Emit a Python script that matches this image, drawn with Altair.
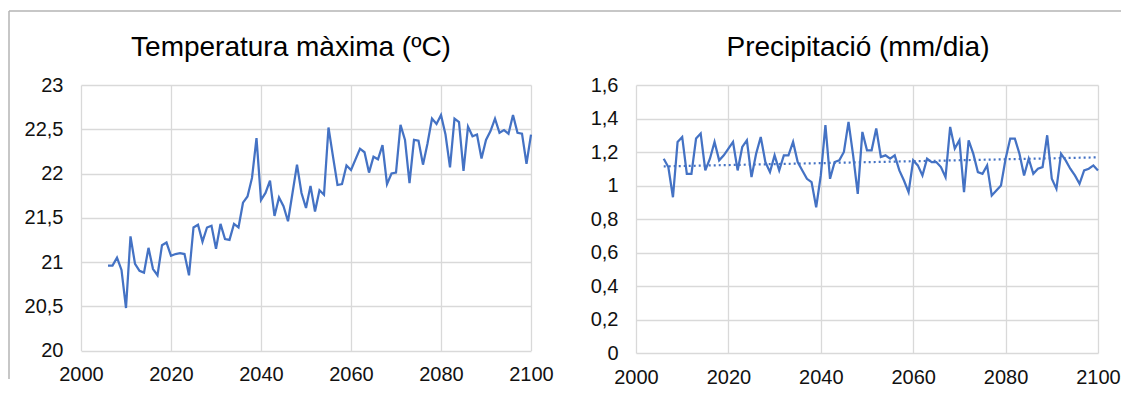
import altair as alt
import pandas as pd

years = list(range(2006, 2101))

tmax = [20.96, 20.96, 21.05, 20.91, 20.48, 21.29, 20.98, 20.90, 20.88, 21.16,
        20.92, 20.85, 21.19, 21.22, 21.07, 21.09, 21.10, 21.09, 20.85, 21.39,
        21.42, 21.23, 21.39, 21.41, 21.15, 21.43, 21.26, 21.25, 21.43, 21.39,
        21.67, 21.74, 21.95, 22.40, 21.70, 21.78, 21.92, 21.52, 21.73, 21.63,
        21.46, 21.78, 22.10, 21.78, 21.61, 21.86, 21.57, 21.81, 21.76, 22.52,
        22.19, 21.87, 21.88, 22.09, 22.04, 22.16, 22.28, 22.24, 22.01, 22.19,
        22.16, 22.32, 21.88, 22.00, 22.01, 22.55, 22.38, 21.89, 22.38, 22.37,
        22.10, 22.34, 22.62, 22.56, 22.66, 22.44, 22.07, 22.62, 22.58, 22.03,
        22.53, 22.42, 22.44, 22.17, 22.38, 22.48, 22.62, 22.46, 22.49, 22.45,
        22.66, 22.46, 22.45, 22.11, 22.44]

precip = [1.16, 1.11, 0.93, 1.26, 1.29, 1.07, 1.07, 1.28, 1.31, 1.09,
          1.16, 1.26, 1.15, 1.18, 1.22, 1.26, 1.09, 1.23, 1.27, 1.05,
          1.19, 1.29, 1.14, 1.08, 1.18, 1.09, 1.18, 1.18, 1.26, 1.14,
          1.09, 1.04, 1.02, 0.87, 1.06, 1.36, 1.04, 1.14, 1.15, 1.20,
          1.38, 1.18, 0.95, 1.32, 1.21, 1.21, 1.34, 1.17, 1.18, 1.16,
          1.18, 1.09, 1.03, 0.96, 1.15, 1.12, 1.06, 1.16, 1.14, 1.14,
          1.11, 1.05, 1.35, 1.22, 1.27, 0.96, 1.27, 1.19, 1.08, 1.07,
          1.12, 0.94, 0.97, 1.00, 1.16, 1.28, 1.28, 1.19, 1.06, 1.16,
          1.07, 1.10, 1.11, 1.30, 1.04, 0.98, 1.19, 1.15, 1.10, 1.06,
          1.01, 1.09, 1.10, 1.12, 1.09]

# dotted linear trend of precipitation, endpoints
trend_years = [2006, 2100]
trend_vals = [1.114, 1.168]

x_ticks = [2000, 2020, 2040, 2060, 2080, 2100]
t_ticks = [20, 20.5, 21, 21.5, 22, 22.5, 23]
p_ticks = [0, 0.2, 0.4, 0.6, 0.8, 1, 1.2, 1.4, 1.6]

title_left = "Temperatura màxima (ºC)"
title_right = "Precipitació (mm/dia)"

df_t = pd.DataFrame({"year": years, "value": tmax})
df_p = pd.DataFrame({"year": years, "value": precip})
df_tr = pd.DataFrame({"year": trend_years, "value": trend_vals})
one = pd.DataFrame({"k": [0]})

BLUE = "#4472C4"
FONT = "Liberation Sans"
LABEL_EXPR = "replace(toString(datum.value), '.', ',')"

W_L, W_R, H_L, H_R = 450, 462, 265.5, 268


def x_enc():
    return alt.X("year:Q",
                 scale=alt.Scale(domain=[2000, 2100], nice=False, zero=False),
                 axis=alt.Axis(values=x_ticks, format="d", title=None, labelPadding=14,
                               labelFlush=False, labelOverlap=False))


def y_enc(dom, ticks):
    return alt.Y("value:Q",
                 scale=alt.Scale(domain=dom, nice=False, zero=False),
                 axis=alt.Axis(values=ticks, labelExpr=LABEL_EXPR, title=None, labelPadding=18,
                               labelFlush=False, labelOverlap=False))


def title_mark(text, xpos):
    return alt.Chart(one).mark_text(
        text=text, font=FONT, fontSize=28, color="#000000",
        align="center", baseline="alphabetic"
    ).encode(x=alt.value(xpos), y=alt.value(-29))


border_top = alt.Chart(one).mark_rule(color="#b4b4b4", strokeWidth=1.5).encode(
    x=alt.value(-72), x2=alt.value(1040), y=alt.value(-74))
border_left = alt.Chart(one).mark_rule(color="#b4b4b4", strokeWidth=1.5).encode(
    x=alt.value(-72), y=alt.value(-74), y2=alt.value(294))

left_line = alt.Chart(df_t).mark_line(color=BLUE, strokeWidth=2.25).encode(
    x=x_enc(), y=y_enc([20, 23], t_ticks))

left = alt.layer(border_top, border_left, title_mark(title_left, 210), left_line).properties(
    width=W_L, height=H_L)

right_line = alt.Chart(df_p).mark_line(color=BLUE, strokeWidth=2.25).encode(
    x=x_enc(), y=y_enc([0, 1.6], p_ticks))

trend = alt.Chart(df_tr).mark_line(
    color=BLUE, strokeWidth=2.2, strokeDash=[2, 3]).encode(
    x=x_enc(), y=y_enc([0, 1.6], p_ticks))

right = alt.layer(title_mark(title_right, 222), trend, right_line).properties(
    width=W_R, height=H_R)

chart = alt.hconcat(left, right, spacing=105, bounds="flush").properties(
    padding={"left": 0, "top": 2, "right": 0, "bottom": 0},
    background="white",
).configure_view(stroke=None).configure_axis(
    grid=True, gridColor="#d9d9d9", gridWidth=1.3,
    domain=False, ticks=False,
    labelFont=FONT, labelFontSize=20, labelColor="#111111",
)

chart.save("out.html", embed_options={"renderer": "svg", "actions": False})
